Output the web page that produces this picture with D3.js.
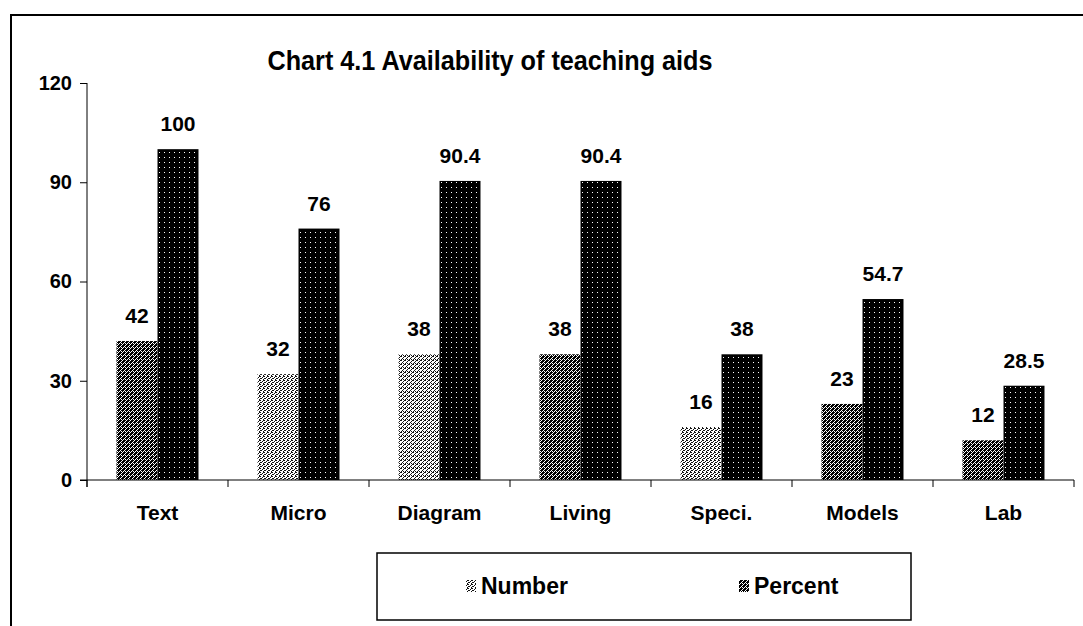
<!DOCTYPE html>
<html>
<head>
<meta charset="utf-8">
<script src="https://cdn.jsdelivr.net/npm/d3@7"></script>
<style>
  body { margin: 0; background: #fff; }
  text { font-family: "Liberation Sans", Arial, sans-serif; font-weight: bold; fill: #000; }
</style>
</head>
<body>
<div id="chart"></div>
<script>
const categories = ['Text', 'Micro', 'Diagram', 'Living', 'Speci.', 'Models', 'Lab'];
const series = ['Number', 'Percent'];
const numberValues = [42, 32, 38, 38, 16, 23, 12];
const percentValues = [100, 76, 90.4, 90.4, 38, 54.7, 28.5];
const percentLabels = ['100', '76', '90.4', '90.4', '38', '54.7', '28.5'];
const yTicks = [0, 30, 60, 90, 120];

// fill texture of each Number bar (the scan shows a different one per category)
const numberFills = ['cross', 'light', 'diag', 'cross', 'light', 'cross', 'cross'];

const W = 1083, H = 626;
const svg = d3.select('#chart').append('svg').attr('width', W).attr('height', H);

// textures
const defs = svg.append('defs');
function pattern(id, size, bg, fg, pixels) {
  const p = defs.append('pattern').attr('id', id)
    .attr('patternUnits', 'userSpaceOnUse').attr('width', size).attr('height', size);
  p.append('rect').attr('width', size).attr('height', size).attr('fill', bg);
  pixels.forEach(([px, py]) => p.append('rect').attr('x', px).attr('y', py)
    .attr('width', 1).attr('height', 1).attr('fill', fg));
}
pattern('cross', 4, '#fff', '#000', [[0,0],[2,0],[1,1],[3,1],[0,2],[2,2],[1,3],[3,3],[1,0],[3,2],[0,1]]);
pattern('light', 4, '#fff', '#111', [[0,0],[2,1],[1,2],[3,3],[3,0],[0,2]]);
pattern('diag', 4, '#fff', '#111', [[3,0],[2,1],[1,2],[0,3],[0,0],[2,3]]);
pattern('dark', 5, '#000', '#fff', [[2,2]]);

// frame (cut off at right and bottom in the scan)
svg.append('path').attr('d', `M11,${H}V15H${W}`)
  .attr('fill', 'none').attr('stroke', '#000').attr('stroke-width', 2);

svg.append('text').attr('x', 490).attr('y', 70).attr('text-anchor', 'middle')
  .attr('font-size', 27).attr('textLength', 445).attr('lengthAdjust', 'spacingAndGlyphs')
  .text('Chart 4.1 Availability of teaching aids');

const x0 = d3.scaleBand().domain(categories).range([87, 1074]);
const x1 = d3.scaleBand().domain(series).range([0, x0.bandwidth()]).paddingOuter(0.72);
const y = d3.scaleLinear().domain([0, 120]).range([480, 83]);

const rows = categories.map((c, i) => ({
  cat: c,
  bars: [
    { s: 'Number', v: numberValues[i], label: String(numberValues[i]), fill: numberFills[i] },
    { s: 'Percent', v: percentValues[i], label: percentLabels[i], fill: 'dark' }
  ]
}));

const groups = svg.selectAll('.grp').data(rows).enter().append('g')
  .attr('transform', d => `translate(${x0(d.cat)},0)`);

groups.selectAll('rect').data(d => d.bars).enter().append('rect')
  .attr('x', d => x1(d.s))
  .attr('width', x1.bandwidth())
  .attr('y', d => y(d.v))
  .attr('height', d => y(0) - y(d.v))
  .attr('fill', d => `url(#${d.fill})`);

groups.selectAll('.val').data(d => d.bars).enter().append('text')
  .attr('x', d => x1(d.s) + x1.bandwidth() / 2)
  .attr('y', d => y(d.v) - 18)
  .attr('text-anchor', 'middle').attr('font-size', 21)
  .text(d => d.label);

// y axis
const yAxis = svg.append('g').attr('transform', 'translate(87,0)')
  .call(d3.axisLeft(y).tickValues(yTicks).tickSize(7).tickPadding(8).tickFormat(d3.format('d')));
yAxis.select('.domain').attr('d', `M0,${y(120)}V${y(0) + 7}`);
yAxis.selectAll('text').attr('font-size', 20).attr('font-family', null).style('font-weight', 'bold');

// x axis with ticks between categories
const bounds = categories.map(c => x0(c)).concat([x0.range()[1]]);
const xAxis = svg.append('g').attr('transform', `translate(0,${y(0)})`);
xAxis.append('line').attr('x1', 80).attr('x2', 1074).attr('stroke', '#000');
xAxis.selectAll('.tk').data(bounds).enter().append('line')
  .attr('x1', d => d).attr('x2', d => d).attr('y1', 0).attr('y2', 7).attr('stroke', '#000');
xAxis.selectAll('.cl').data(categories).enter().append('text')
  .attr('x', d => x0(d) + x0.bandwidth() / 2).attr('y', 40)
  .attr('text-anchor', 'middle').attr('font-size', 21)
  .text(d => d);

// legend
const lg = svg.append('g');
lg.append('rect').attr('x', 377).attr('y', 553).attr('width', 534).attr('height', 67)
  .attr('fill', '#fff').attr('stroke', '#000').attr('stroke-width', 1.5);
const legendItems = [
  { s: 'Number', fill: 'light', x: 466 },
  { s: 'Percent', fill: 'cross', x: 739 }
];
legendItems.forEach(d => {
  lg.append('rect').attr('x', d.x).attr('y', 580).attr('width', 10).attr('height', 12)
    .attr('fill', `url(#${d.fill})`);
  lg.append('text').attr('x', d.x + 15).attr('y', 594).attr('font-size', 23).text(d.s);
});
</script>
</body>
</html>
